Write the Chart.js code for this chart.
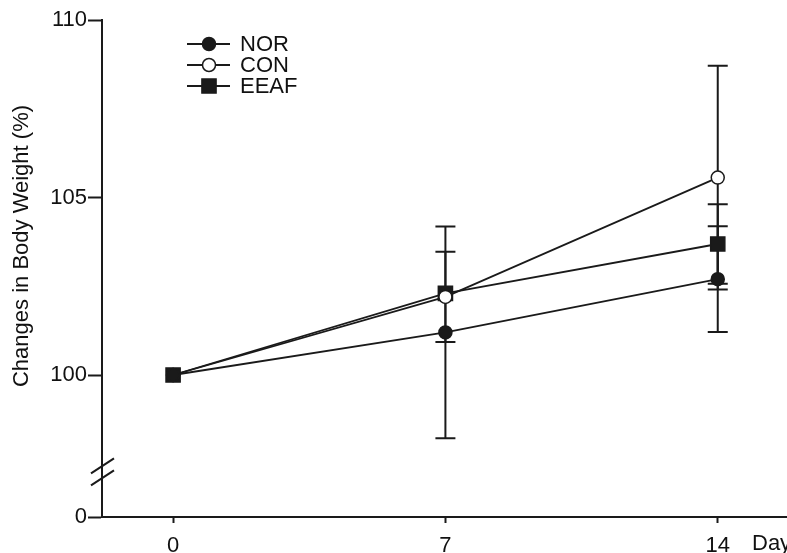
<!DOCTYPE html>
<html>
<head>
<meta charset="utf-8">
<script src="https://cdn.jsdelivr.net/npm/chart.js@4/dist/chart.umd.min.js"></script>
<style>
  html, body { margin: 0; padding: 0; background: #fff; }
</style>
</head>
<body>
<canvas id="weightChart" width="787" height="553"></canvas>
<script>
// data (mean and SD, % of day-0 body weight)
var days = [0, 7, 14];
var seriesNames = ["NOR", "CON", "EEAF"];
var norMean = [100, 101.2, 102.7];
var norSD = [0, 2.98, 1.49];
var conMean = [100, 102.2, 105.56];
var conSD = [0, 1.27, 3.15];
var eeafMean = [100, 102.3, 103.69];
var eeafSD = [0, 0, 1.12];
var xTickLabels = ["0", "7", "14"];
var yTickValues = [0, 100, 105, 110];
var yTickLabels = ["0", "100", "105", "110"];

var FONT = "'Liberation Sans', Arial, sans-serif";
var FONT_SIZE = 22;
var INK = "#1a1a1a";
var Y_FLOOR = 96;    // the broken axis: 0 is drawn where 96 would be
var BREAK_AT = 97.27;
var X_TICK_PAD = 10;

var sds = [norSD, conSD, eeafSD];

// error bars, drawn under the markers
var errorBars = {
  id: "errorBars",
  beforeDatasetsDraw: function(chart) {
    var ctx = chart.ctx, xs = chart.scales.x, ys = chart.scales.y;
    ctx.save();
    ctx.strokeStyle = INK;
    ctx.lineWidth = 2;
    chart.data.datasets.forEach(function(ds, d) {
      ds.data.forEach(function(p, i) {
        var sd = sds[d][i];
        if (!sd) return;
        var x = xs.getPixelForValue(p.x);
        var yt = ys.getPixelForValue(p.y + sd);
        var yb = ys.getPixelForValue(p.y - sd);
        ctx.beginPath();
        ctx.moveTo(x, yt); ctx.lineTo(x, yb);
        ctx.moveTo(x - 10, yt); ctx.lineTo(x + 10, yt);
        ctx.moveTo(x - 10, yb); ctx.lineTo(x + 10, yb);
        ctx.stroke();
      });
    });
    ctx.restore();
  }
};

// axis break, legend, axis titles
var extras = {
  id: "extras",
  afterDraw: function(chart) {
    var ctx = chart.ctx, xs = chart.scales.x, ys = chart.scales.y;
    var left = chart.chartArea.left;
    ctx.save();

    // break marks on the y axis
    var yc = ys.getPixelForValue(BREAK_AT);
    ctx.strokeStyle = INK;
    ctx.lineWidth = 2;
    [-6, 6].forEach(function(off) {
      ctx.beginPath();
      ctx.moveTo(left - 11, yc + off + 7.5);
      ctx.lineTo(left + 12, yc + off - 7.5);
      ctx.stroke();
    });

    // legend
    var rows = [44, 65, 86];
    ctx.font = FONT_SIZE + "px " + FONT;
    ctx.textBaseline = "middle";
    ctx.textAlign = "left";
    chart.data.datasets.forEach(function(ds, d) {
      var y = rows[d];
      ctx.strokeStyle = INK;
      ctx.lineWidth = 2;
      ctx.beginPath();
      ctx.moveTo(187, y); ctx.lineTo(230, y);
      ctx.stroke();
      ctx.fillStyle = ds.pointBackgroundColor;
      ctx.lineWidth = ds.pointBorderWidth;
      ctx.beginPath();
      if (ds.pointStyle === "rect") {
        var h = ds.pointRadius * Math.SQRT1_2;
        ctx.rect(209 - h, y - h, 2 * h, 2 * h);
      } else {
        ctx.arc(209, y, ds.pointRadius, 0, Math.PI * 2);
      }
      ctx.fill();
      ctx.stroke();
      ctx.fillStyle = "#111";
      ctx.fillText(seriesNames[d], 240, y + 1);
    });

    // x title sits beside the last tick label
    ctx.textBaseline = "top";
    ctx.fillText("Day", 752, xs.top + 6 + X_TICK_PAD);

    // y title
    ctx.translate(22, 246);
    ctx.rotate(-Math.PI / 2);
    ctx.textAlign = "center";
    ctx.textBaseline = "middle";
    ctx.fillText("Changes in Body Weight (%)", 0, 0);
    ctx.restore();
  }
};

function makeSet(i, mean, style, fill, radius) {
  return {
    label: seriesNames[i],
    data: mean.map(function(v, k) { return { x: days[k], y: v }; }),
    borderColor: INK,
    borderWidth: 1.8,
    pointStyle: style,
    pointRadius: radius,
    pointBorderWidth: 1.5,
    pointBackgroundColor: fill,
    pointBorderColor: INK,
    fill: false,
    tension: 0
  };
}

new Chart(document.getElementById("weightChart").getContext("2d"), {
  type: "line",
  data: {
    datasets: [
      makeSet(0, norMean, "circle", INK, 6.5),
      makeSet(1, conMean, "circle", "#fff", 6.5),
      makeSet(2, eeafMean, "rect", INK, 10)
    ]
  },
  plugins: [errorBars, extras],
  options: {
    responsive: false,
    animation: false,
    layout: { autoPadding: false, padding: { top: 20, left: 0, right: 0, bottom: 0 } },
    plugins: { legend: { display: false }, tooltip: { enabled: false } },
    scales: {
      x: {
        type: "linear",
        min: -1.827,
        max: 15.78,
        afterBuildTicks: function(s) {
          s.ticks = days.map(function(v) { return { value: v }; });
        },
        afterFit: function(s) { s.height = 36; s.paddingLeft = 0; s.paddingRight = 0; },
        grid: { drawOnChartArea: false, tickLength: 6, tickWidth: 2, tickColor: INK },
        border: { color: INK, width: 2 },
        ticks: {
          color: "#111",
          font: { family: FONT, size: FONT_SIZE },
          padding: X_TICK_PAD,
          maxRotation: 0,
          autoSkip: false,
          callback: function(v, i) { return xTickLabels[i]; }
        }
      },
      y: {
        type: "linear",
        min: Y_FLOOR,
        max: 110,
        afterBuildTicks: function(s) {
          s.ticks = yTickValues.map(function(v) { return { value: v === 0 ? Y_FLOOR : v }; });
        },
        afterFit: function(s) { s.width = 102; s.paddingTop = 0; s.paddingBottom = 0; },
        grid: { drawOnChartArea: false, tickLength: 14, tickWidth: 2, tickColor: INK },
        border: { color: INK, width: 2 },
        ticks: {
          color: "#111",
          font: { family: FONT, size: FONT_SIZE },
          padding: 1,
          autoSkip: false,
          callback: function(v, i) { return yTickLabels[i]; }
        }
      }
    }
  }
});
</script>
</body>
</html>
